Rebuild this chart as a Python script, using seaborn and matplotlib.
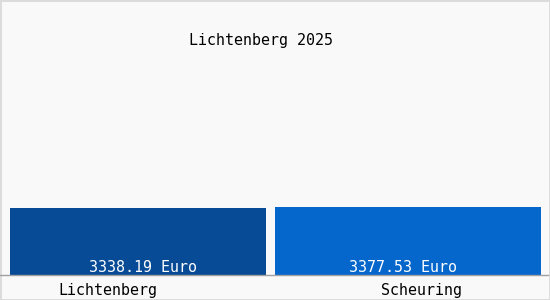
import matplotlib
matplotlib.use("Agg")
import matplotlib.pyplot as plt
import matplotlib.transforms as mtransforms
import seaborn as sns
import pandas as pd

categories = ["Lichtenberg", "Scheuring"]
values = [3338.19, 3377.53]
value_labels = ["3338.19 Euro", "3377.53 Euro"]
title = "Lichtenberg 2025"
colors = ["#074a96", "#0566cb"]
bar_widths = [0.948, 0.985]

sns.set_style("white")
plt.rcParams["font.family"] = ["DejaVu Sans Mono"]

df = pd.DataFrame({"cat": categories, "val": values})

fig = plt.figure(figsize=(5.5, 3.0), dpi=100, facecolor="#f9f9f9")
fig.patch.set_edgecolor("#dcdcdc")
fig.patch.set_linewidth(2)
ax = fig.add_axes([0, 1 - 275 / 300, 548 / 550, 275 / 300])
ax.patch.set_visible(False)

sns.barplot(data=df, x="cat", y="val", hue="cat", palette=colors, width=0.966,
            legend=False, ax=ax, saturation=1, linewidth=0)

for p, w in zip(ax.patches, bar_widths):
    cx = p.get_x() + p.get_width() / 2
    p.set_width(w)
    p.set_x(cx - w / 2)
    p.set_edgecolor("none")

ax.set_xlim(-0.511, 1.518)
ax.set_ylim(0, 3377.53 * 275 / 68)
for s in ["top", "right", "left"]:
    ax.spines[s].set_visible(False)
ax.spines["bottom"].set_color("#a0a0a0")
ax.spines["bottom"].set_linewidth(1)
ax.set_yticks([])
ax.set_xlabel("")
ax.set_ylabel("")
ax.tick_params(axis="x", length=0, pad=6, labelsize=10.8, labelcolor="#000000")

offsets = [-30, 13]
for lab, dx in zip(ax.get_xticklabels(), offsets):
    lab.set_transform(lab.get_transform() + mtransforms.ScaledTranslation(dx / 100, 0, fig.dpi_scale_trans))

for i, (v, t) in enumerate(zip(values, value_labels)):
    ax.text(i, 0, t, ha="center", va="bottom", color="white", fontsize=10.8,
            transform=ax.transData + mtransforms.ScaledTranslation((5 if i == 0 else -5) / 100, 0, fig.dpi_scale_trans))

fig.text(261 / 550, 1 - 40 / 300, title, ha="center", va="center", fontsize=10.8, color="#000000")

fig.savefig("out.png", dpi=100, facecolor=fig.get_facecolor(), edgecolor=fig.get_edgecolor())
